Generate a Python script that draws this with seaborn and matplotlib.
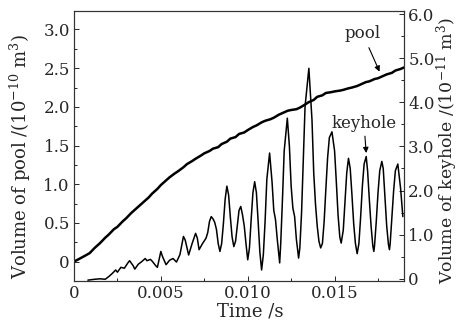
import pandas as pd
import seaborn as sns
import matplotlib.pyplot as plt
from matplotlib.ticker import MultipleLocator

# pool volume (left axis, 1e-10 m^3)
pool_t = [0, 0.0005, 0.0009, 0.0012, 0.0015, 0.0018, 0.002, 0.0023, 0.0025, 0.0028, 0.003,
          0.0033, 0.0035, 0.0038, 0.004, 0.0043, 0.0045, 0.0048, 0.005, 0.0053, 0.0055,
          0.0058, 0.006, 0.0063, 0.0065, 0.0068, 0.007, 0.0073, 0.0075, 0.0078, 0.008,
          0.0083, 0.0085, 0.0088, 0.009, 0.0093, 0.0095, 0.0098, 0.010, 0.0103, 0.0105,
          0.0108, 0.011, 0.0113, 0.0115, 0.0118, 0.012, 0.0123, 0.0125, 0.0128, 0.013,
          0.0133, 0.0135, 0.0138, 0.014, 0.0143, 0.0145, 0.0148, 0.015, 0.0153, 0.0155,
          0.0158, 0.016, 0.0163, 0.0165, 0.0168, 0.017, 0.0173, 0.0175, 0.0178, 0.018,
          0.0183, 0.0185, 0.0188, 0.019]
pool_v = [0.00, 0.06, 0.11, 0.18, 0.24, 0.31, 0.35, 0.42, 0.45, 0.52, 0.56,
          0.63, 0.67, 0.73, 0.77, 0.83, 0.88, 0.94, 0.99, 1.05, 1.09,
          1.14, 1.17, 1.22, 1.26, 1.30, 1.33, 1.37, 1.40, 1.43, 1.46,
          1.48, 1.52, 1.55, 1.59, 1.61, 1.65, 1.67, 1.70, 1.74, 1.76,
          1.80, 1.82, 1.84, 1.86, 1.90, 1.92, 1.95, 1.96, 1.97, 1.99,
          2.03, 2.06, 2.09, 2.13, 2.15, 2.18, 2.19, 2.20, 2.21, 2.22,
          2.24, 2.25, 2.27, 2.29, 2.32, 2.33, 2.36, 2.37, 2.40, 2.42,
          2.44, 2.47, 2.49, 2.51]

# keyhole volume (right axis, 1e-11 m^3)
key_t = [0.0008, 0.0012, 0.0015, 0.0018, 0.0020, 0.0022, 0.0024, 0.0025, 0.0027, 0.0029,
         0.0031, 0.0032, 0.0034, 0.0035, 0.0037, 0.0039, 0.0041, 0.0042, 0.0044, 0.0045,
         0.0047, 0.0048, 0.0050, 0.0051, 0.0053, 0.0055, 0.0057, 0.0059, 0.0061, 0.0063,
         0.0064, 0.0066, 0.0068, 0.0070, 0.0071, 0.0072, 0.0074, 0.0076, 0.0077, 0.0078,
         0.0079, 0.0080, 0.0081, 0.0082, 0.0083, 0.0084, 0.0085, 0.0086, 0.0087, 0.0088,
         0.0089, 0.0090, 0.0091, 0.0092, 0.0093, 0.0094, 0.0095, 0.0096, 0.0097, 0.0098,
         0.0099, 0.0100, 0.0101, 0.0102, 0.0103, 0.0104, 0.0105, 0.0106, 0.0107, 0.0108,
         0.0109, 0.0110, 0.0111, 0.01126, 0.0114, 0.0115, 0.0116, 0.0117, 0.01184, 0.0119,
         0.0120, 0.0121, 0.01228, 0.0124, 0.0125, 0.0126, 0.0127, 0.0128, 0.01293, 0.0130,
         0.0131, 0.0132, 0.0133, 0.01352, 0.0137, 0.0138, 0.0139, 0.0140, 0.0141, 0.0142,
         0.0143, 0.0144, 0.0145, 0.0146, 0.0147, 0.01485, 0.0150, 0.0151, 0.0152, 0.0153,
         0.01538, 0.0155, 0.0156, 0.0157, 0.0158, 0.0159, 0.0160, 0.0161, 0.0162, 0.0163,
         0.0164, 0.0165, 0.0166, 0.0167, 0.01682, 0.0169, 0.0170, 0.0171, 0.0172, 0.01726,
         0.0173, 0.0174, 0.0175, 0.0176, 0.01772, 0.0178, 0.0179, 0.0180, 0.0181, 0.01816,
         0.0182, 0.0183, 0.0184, 0.0185, 0.01864, 0.0188, 0.01893]
key_v = [-0.03, -0.01, 0.00, -0.01, 0.05, 0.12, 0.20, 0.15, 0.26, 0.24,
         0.36, 0.41, 0.30, 0.22, 0.33, 0.39, 0.46, 0.41, 0.44, 0.40,
         0.30, 0.26, 0.62, 0.50, 0.32, 0.42, 0.46, 0.38, 0.55, 0.96,
         0.88, 0.54, 0.80, 1.03, 0.92, 0.66, 0.80, 0.92, 1.05, 1.30,
         1.41, 1.36, 1.28, 1.12, 0.80, 0.62, 0.80, 1.25, 1.80, 2.10,
         1.90, 1.40, 0.95, 0.73, 0.85, 1.20, 1.55, 1.64, 1.45, 1.20,
         0.80, 0.43, 0.70, 1.35, 1.95, 2.20, 1.95, 1.30, 0.60, 0.20,
         0.55, 1.30, 2.25, 2.85, 2.20, 1.55, 1.34, 0.90, 0.36, 0.80,
         1.80, 2.90, 3.64, 3.00, 2.10, 1.60, 1.41, 0.90, 0.47, 0.70,
         1.50, 2.70, 3.90, 4.77, 3.60, 2.40, 1.70, 1.20, 0.85, 0.70,
         0.80, 1.30, 2.05, 2.75, 3.20, 3.33, 2.90, 2.20, 1.45, 0.95,
         0.81, 1.10, 1.75, 2.40, 2.73, 2.50, 1.90, 1.25, 0.80, 0.57,
         0.80, 1.40, 2.10, 2.60, 2.77, 2.45, 1.80, 1.20, 0.75, 0.62,
         0.75, 1.30, 1.95, 2.45, 2.66, 2.50, 1.85, 1.20, 0.78, 0.66,
         0.80, 1.40, 2.00, 2.45, 2.60, 2.05, 1.41]

x_ticks = [0, 0.005, 0.010, 0.015]
x_labels = ["0", "0.005", "0.010", "0.015"]
left_ticks = [0, 0.5, 1.0, 1.5, 2.0, 2.5, 3.0]
left_labels = ["0", "0.5", "1.0", "1.5", "2.0", "2.5", "3.0"]
right_ticks = [0, 1, 2, 3, 4, 5, 6]
right_labels = ["0", "1.0", "2.0", "3.0", "4.0", "5.0", "6.0"]

sns.set_style("ticks")
plt.rcParams["font.family"] = ["DejaVu Serif"]
plt.rcParams["mathtext.fontset"] = "dejavuserif"
plt.rcParams["xtick.direction"] = "in"
plt.rcParams["ytick.direction"] = "in"

df_pool = pd.DataFrame({"t": pool_t, "v": pool_v})
df_key = pd.DataFrame({"t": key_t, "v": key_v})

fig = plt.figure(figsize=(4.61, 3.31), dpi=100)
ax = fig.add_axes([0.1605, 0.151, 0.716, 0.816])
ax2 = ax.twinx()

sns.lineplot(data=df_pool, x="t", y="v", ax=ax, color="black", lw=1.8,
             estimator=None, sort=False)
sns.lineplot(data=df_key, x="t", y="v", ax=ax2, color="black", lw=1.1,
             estimator=None, sort=False)

ax.set_xlim(0, 0.019)
ax.set_ylim(-0.25, 3.24)
ax2.set_ylim(-0.05, 6.07)

fs = 12
lfs = 13
ax.set_xticks(x_ticks, x_labels, fontsize=fs)
ax.set_yticks(left_ticks, left_labels, fontsize=fs)
ax2.set_yticks(right_ticks, right_labels, fontsize=fs)
ax.xaxis.set_minor_locator(MultipleLocator(0.0025))
ax.yaxis.set_minor_locator(MultipleLocator(0.25))
ax2.yaxis.set_minor_locator(MultipleLocator(0.5))
for a in (ax, ax2):
    a.tick_params(which="major", length=3.5, width=0.7, pad=3)
    a.tick_params(which="minor", length=2, width=0.7)
    for s in a.spines.values():
        s.set_linewidth(0.8)
        s.set_color("#333333")

ax.set_xlabel("Time /s", fontsize=lfs)
ax.set_ylabel(r"Volume of pool /(10$^{-10}$ m$^{3}$)", fontsize=lfs)
ax2.set_ylabel(r"Volume of keyhole /(10$^{-11}$ m$^{3}$)", fontsize=12.5)
ax.xaxis.set_label_coords(0.533, -0.08)
ax.yaxis.set_label_coords(-0.125, 0.46)
ax2.yaxis.set_label_coords(1.093, 0.485)

ax.annotate("pool", xy=(0.01759, 2.455), xytext=(0.01661, 2.95),
            ha="center", va="center", fontsize=fs,
            arrowprops=dict(arrowstyle="-|>", color="black", lw=0.8,
                            mutation_scale=8, shrinkA=2, shrinkB=0))
ax2.annotate("keyhole", xy=(0.01682, 2.85), xytext=(0.01669, 3.53),
             ha="center", va="center", fontsize=fs,
             arrowprops=dict(arrowstyle="-|>", color="black", lw=0.8,
                             mutation_scale=8, shrinkA=1, shrinkB=0))

plt.savefig("out.png", dpi=100)
